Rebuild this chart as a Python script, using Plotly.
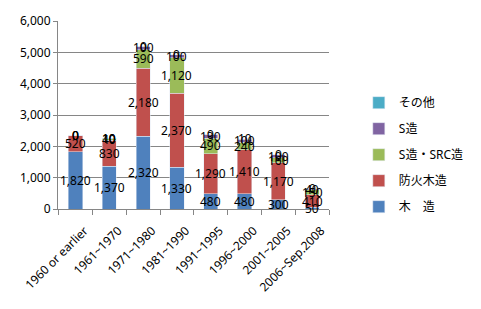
import plotly.graph_objects as go

categories = ["1960 or earlier", "1961~1970", "1971~1980", "1981~1990",
              "1991~1995", "1996~2000", "2001~2005", "2006~Sep.2008"]
mokuzo = [1820, 1370, 2320, 1330, 480, 480, 300, 50]
bouka = [520, 830, 2180, 2370, 1290, 1410, 1170, 410]
s_src = [0, 40, 590, 1120, 490, 240, 160, 150]
s_zo = [0, 10, 100, 100, 130, 100, 100, 40]
sonota = [0, 10, 0, 0, 0, 10, 0, 0]

series = [
    ("木\u3000造", mokuzo, "#4F81BD"),
    ("防火木造", bouka, "#C0504D"),
    ("S造・SRC造", s_src, "#9BBB59"),
    ("S造", s_zo, "#8064A2"),
    ("その他", sonota, "#4BACC6"),
]

FONT = "Noto Sans, Noto Sans CJK JP, sans-serif"
fig = go.Figure()
annotations = []
base = [0] * len(categories)
n = len(series)
for i, (name, vals, color) in enumerate(series):
    fig.add_trace(go.Bar(x=categories, y=vals, name=name, marker_color=color,
                         legendgroup=str(i), legendrank=n - i))
    for j, v in enumerate(vals):
        annotations.append(dict(x=categories[j], y=base[j] + v / 2, text=f"{v:,}",
                                showarrow=False, font=dict(size=12, color="black", family=FONT),
                                xref="x", yref="y"))
        base[j] += v

fig.update_layout(
    barmode="stack",
    bargap=0.58,
    width=481, height=309,
    margin=dict(l=58, r=106, t=15, b=100),
    paper_bgcolor="white", plot_bgcolor="white",
    font=dict(family=FONT, size=12, color="black"),
    annotations=annotations,
    legend=dict(x=1.11, xanchor="left", y=0.289, yanchor="middle",
                traceorder="grouped", tracegroupgap=7,
                font=dict(size=12, family=FONT), itemwidth=30),
    xaxis=dict(tickangle=-45, showline=True, linecolor="#868686", ticks="outside",
               tickson="boundaries", tickcolor="#868686", ticklen=5,
               ticklabelstandoff=9, ticklabelshift=9,
               tickfont=dict(size=12, family=FONT)),
    yaxis=dict(range=[0, 6000], dtick=1000, tickformat=",", showgrid=True,
               gridcolor="#868686", showline=True, linecolor="#868686",
               ticks="outside", tickcolor="#868686", ticklen=4,
               tickfont=dict(size=12, family=FONT)),
)
fig.write_html("out.html")
